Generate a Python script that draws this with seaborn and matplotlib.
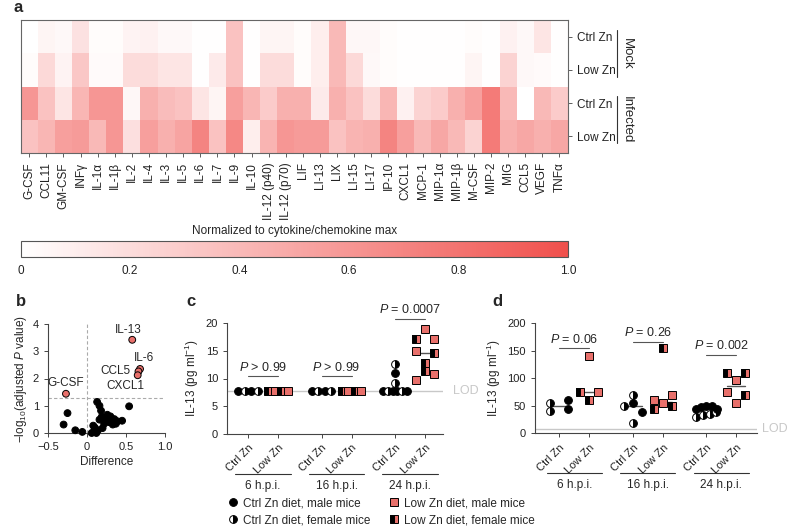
import numpy as np
import pandas as pd
import seaborn as sns
import matplotlib.pyplot as plt
from matplotlib.colors import LinearSegmentedColormap
from matplotlib.lines import Line2D
from matplotlib.transforms import blended_transform_factory

sns.set_style("ticks")
plt.rcParams["font.family"] = ["Liberation Sans", "DejaVu Sans"]
plt.rcParams["mathtext.fontset"] = "custom"
plt.rcParams["mathtext.rm"] = "Liberation Sans"
plt.rcParams["mathtext.it"] = "Liberation Sans:italic"
plt.rcParams["font.size"] = 8
plt.rcParams["axes.edgecolor"] = "#444444"
plt.rcParams["axes.linewidth"] = 0.8
plt.rcParams["xtick.color"] = "#444444"
plt.rcParams["ytick.color"] = "#444444"
plt.rcParams["xtick.labelcolor"] = "#222222"
plt.rcParams["ytick.labelcolor"] = "#222222"

# ---- panel a: cytokine heatmap (normalized to max) ----
cytokines = ["G-CSF", "CCL11", "GM-CSF", "INFγ", "IL-1α", "IL-1β", "IL-2", "IL-4", "IL-3", "IL-5",
             "IL-6", "IL-7", "IL-9", "IL-10", "IL-12 (p40)", "IL-12 (p70)", "LIF", "LI-13", "LIX",
             "LI-15", "LI-17", "IP-10", "CXCL1", "MCP-1", "MIP-1α", "MIP-1β", "M-CSF", "MIP-2",
             "MIG", "CCL5", "VEGF", "TNFα"]
row_labels = ["Ctrl Zn", "Low Zn", "Ctrl Zn", "Low Zn"]
mock_ctrl = [0.00, 0.06, 0.04, 0.17, 0.02, 0.02, 0.07, 0.08, 0.04, 0.04, 0.01, 0.01, 0.35, 0.01, 0.06, 0.06,
             0.02, 0.10, 0.40, 0.05, 0.05, 0.02, 0.01, 0.01, 0.01, 0.01, 0.02, 0.01, 0.08, 0.04, 0.15, 0.01]
mock_low = [0.02, 0.22, 0.07, 0.32, 0.03, 0.03, 0.20, 0.20, 0.15, 0.15, 0.01, 0.12, 0.35, 0.01, 0.20, 0.20,
            0.02, 0.10, 0.40, 0.22, 0.04, 0.02, 0.01, 0.01, 0.01, 0.01, 0.06, 0.01, 0.25, 0.04, 0.03, 0.01]
inf_ctrl = [0.60, 0.35, 0.15, 0.42, 0.60, 0.60, 0.05, 0.45, 0.38, 0.35, 0.15, 0.06, 0.55, 0.42, 0.30, 0.45,
            0.45, 0.12, 0.45, 0.35, 0.20, 0.42, 0.08, 0.25, 0.30, 0.45, 0.55, 0.75, 0.40, 0.00, 0.40, 0.30]
inf_low = [0.35, 0.42, 0.55, 0.57, 0.40, 0.60, 0.18, 0.55, 0.45, 0.52, 0.70, 0.35, 0.68, 0.10, 0.43, 0.60,
           0.57, 0.57, 0.35, 0.43, 0.45, 0.70, 0.55, 0.40, 0.50, 0.40, 0.25, 0.75, 0.45, 0.50, 0.45, 0.50]

# ---- panel b: volcano ----
volc_diff = [-0.30, -0.25, -0.15, -0.06, 0.06, 0.08, 0.09, 0.12, 0.14, 0.13, 0.16, 0.18, 0.16, 0.22,
             0.24, 0.26, 0.30, 0.35, 0.33, 0.39, 0.45, 0.37, 0.20, 0.54, 0.10, 0.28, 0.19]
volc_logp = [0.31, 0.73, 0.10, 0.04, 0.00, 0.27, 0.06, 0.00, 0.10, 1.14, 1.00, 0.82, 0.49, 0.34,
             0.49, 0.67, 0.61, 0.51, 0.31, 0.43, 0.45, 0.34, 0.18, 0.98, 0.20, 0.40, 0.60]
hit_names = ["IL-13", "IL-6", "CCL5", "CXCL1", "G-CSF"]
hit_diff = [0.58, 0.68, 0.66, 0.65, -0.27]
hit_logp = [3.42, 2.35, 2.26, 2.12, 1.44]

# ---- panels c, d: IL-13 per mouse ----
timepoints = ["6 h.p.i.", "16 h.p.i.", "24 h.p.i."]
LOD = 7.8
c_ctrl_vals = [[7.8, 7.8, 7.8, 7.8], [7.8, 7.8, 7.8, 7.8],
               [12.6, 11.0, 9.1, 7.8, 7.8, 7.8, 7.8, 7.8, 7.8]]
c_ctrl_sex = [["M", "F", "M", "F"], ["M", "F", "M", "F"],
              ["F", "M", "F", "M", "F", "M", "M", "F", "M"]]
c_low_vals = [[7.8, 7.8, 7.8, 7.8], [7.8, 7.8, 7.8, 7.8],
              [17.2, 17.2, 19.0, 15.0, 14.6, 12.8, 11.4, 9.7, 10.8]]
c_low_sex = [["F", "M", "F", "M"], ["F", "M", "F", "M"],
             ["F", "M", "M", "M", "F", "F", "F", "M", "M"]]
c_pvals = ["$P$ > 0.99", "$P$ > 0.99", "$P$ = 0.0007"]
c_bracket_y = [10.4, 10.4, 20.7]

d_ctrl_vals = [[55, 40, 60, 45], [50, 70, 19.4, 54.5, 38.5],
               [29, 44, 33, 47, 35, 50, 39, 49, 45]]
d_ctrl_sex = [["F", "F", "M", "M"], ["F", "F", "F", "M", "M"],
              ["F", "M", "F", "M", "F", "M", "F", "M", "M"]]
d_low_vals = [[75, 140, 75, 60], [155, 43.6, 54.5, 50, 60.6, 70],
              [110, 110, 75, 70, 97, 55]]
d_low_sex = [["F", "M", "M", "F"], ["F", "F", "M", "F", "M", "M"],
             ["F", "F", "M", "F", "M", "M"]]
d_pvals = ["$P$ = 0.06", "$P$ = 0.26", "$P$ = 0.002"]
d_bracket_y = [154.5, 166.6, 142]

RED = "#E8706B"
styles = {
    ("ctrl", "M"): dict(marker="o", markersize=5.6, markerfacecolor="black", markeredgecolor="black"),
    ("ctrl", "F"): dict(marker="o", markersize=5.6, fillstyle="right", markerfacecolor="black",
                        markerfacecoloralt="white", markeredgecolor="black"),
    ("low", "M"): dict(marker="s", markersize=5.6, markerfacecolor=RED, markeredgecolor="black"),
    ("low", "F"): dict(marker="s", markersize=5.6, fillstyle="left", markerfacecolor="black",
                       markerfacecoloralt=RED, markeredgecolor="black"),
}

fig = plt.figure(figsize=(8, 5.3), dpi=100)
W, H = 800, 530


def rect(x0, y0, x1, y1):
    return [x0 / W, 1 - y1 / H, (x1 - x0) / W, (y1 - y0) / H]


# ================= a =================
ax_a = fig.add_axes(rect(20.7, 20, 568, 153))
cax = fig.add_axes(rect(20.7, 241, 568, 257))
df_a = pd.DataFrame([mock_ctrl, mock_low, inf_ctrl, inf_low], index=row_labels, columns=cytokines)
cmap = LinearSegmentedColormap.from_list("wr", ["#FFFFFF", "#F0504C"])
sns.heatmap(df_a, ax=ax_a, cmap=cmap, vmin=0, vmax=1, cbar_ax=cax,
            cbar_kws={"orientation": "horizontal"})
ax_a.set_xticks(np.arange(len(cytokines)) + 0.5)
ax_a.set_xticklabels(cytokines, rotation=90, fontsize=8.5)
ax_a.yaxis.tick_right()
ax_a.set_yticks(np.arange(4) + 0.5)
ax_a.set_yticklabels(row_labels, rotation=0, fontsize=8.5)
ax_a.tick_params(length=3, width=0.6)
for sp in ax_a.spines.values():
    sp.set_visible(True)
    sp.set_color("#666666")
    sp.set_linewidth(0.8)

tr = blended_transform_factory(ax_a.transAxes, ax_a.transData)
for (y0, y1), name in zip([(0.3, 1.72), (2.28, 3.7)], ["Mock", "Infected"]):
    ax_a.plot([1.0895, 1.0895], [y0, y1], transform=tr, clip_on=False, color="#333333", lw=0.8)
    ax_a.text(1.108, (y0 + y1) / 2, name, transform=tr, rotation=270, ha="center", va="center",
              fontsize=9.5)

cbar = ax_a.collections[0].colorbar
cbar.outline.set_edgecolor("#555555")
cbar.outline.set_linewidth(0.8)
cbar.set_ticks([0, 0.2, 0.4, 0.6, 0.8, 1.0])
cax.set_xticklabels(["0", "0.2", "0.4", "0.6", "0.8", "1.0"], fontsize=8.5)
cax.tick_params(axis="x", top=True, bottom=False, labeltop=False, labelbottom=True,
                direction="in", length=4, width=0.6, pad=6)
cax.set_title("Normalized to cytokine/chemokine max", fontsize=8.5, pad=5)

# ================= b =================
ax_b = fig.add_axes(rect(48, 324, 165, 433))
df_b = pd.DataFrame({"diff": volc_diff + hit_diff, "logp": volc_logp + hit_logp,
                     "hit": ["no"] * len(volc_diff) + ["yes"] * len(hit_diff)})
ax_b.axvline(0, color="#aaaaaa", lw=0.8, ls=(0, (3, 2)), zorder=0)
ax_b.axhline(-np.log10(0.05), color="#aaaaaa", lw=0.8, ls=(0, (3, 2)), zorder=0)
sns.scatterplot(data=df_b, x="diff", y="logp", hue="hit", palette={"no": "black", "yes": RED},
                s=24, edgecolor="black", linewidth=0.7, legend=False, clip_on=False, zorder=3, ax=ax_b)
label_offsets = {"IL-13": (-3, 7, "center"), "IL-6": (3, 8, "center"), "CCL5": (-6, 0, "right"),
                 "CXCL1": (-9, -8, "center"), "G-CSF": (0, 7.5, "center")}
for name, x, y in zip(hit_names, hit_diff, hit_logp):
    dx, dy, ha = label_offsets[name]
    ax_b.annotate(name, (x, y), xytext=(dx, dy), textcoords="offset points", ha=ha, va="center",
                  fontsize=8.5)
ax_b.set_xlim(-0.5, 1.0)
ax_b.set_ylim(0, 4)
ax_b.set_xticks([-0.5, 0, 0.5, 1.0])
ax_b.set_xticklabels(["\u22120.5", "0", "0.5", "1.0"])
ax_b.set_yticks([0, 1, 2, 3, 4])
ax_b.set_xlabel("Difference", fontsize=8.5, labelpad=3)
ax_b.set_ylabel("$-$log$_{10}$(adjusted $P$ value)", fontsize=8.5, labelpad=3)
ax_b.tick_params(length=3, width=0.7, labelsize=8)
sns.despine(ax=ax_b)


# ================= c, d =================
def row_offsets(vals, ax, px_gap=6.5):
    # points closer than about one marker in y share a row and get spread sideways
    vals = np.asarray(vals, float)
    ypx = ax.transData.transform(np.column_stack([np.zeros_like(vals), vals]))[:, 1]
    order = np.argsort(vals, kind="stable")
    offs = np.zeros(len(vals))
    rows, cur, start = [], [], None
    for i in order:
        if cur and ypx[i] - start >= px_gap:
            rows.append(cur)
            cur = []
        if not cur:
            start = ypx[i]
        cur.append(i)
    rows.append(cur)
    for r in rows:
        r = sorted(r)
        n = len(r)
        if n > 1:
            hw = min(0.3 + 0.03 * max(n - 3, 0), 0.42)
            offs[r] = np.linspace(-hw, hw, n)
    return offs


def dot_panel(ax, ctrl_vals, ctrl_sex, low_vals, low_sex, pvals, bracket_y, ylim, yticks, lod_x):
    pos_ctrl = [g * 2.45 for g in range(3)]
    pos_low = [g * 2.45 + 1 for g in range(3)]
    ax.set_ylim(*ylim)
    ax.set_yticks(yticks)
    ax.axhline(LOD, color="#c8c8c8", lw=1, zorder=1)
    ax.text(lod_x, LOD, "LOD", transform=blended_transform_factory(ax.transAxes, ax.transData),
            color="#c8c8c8", fontsize=9, ha="left", va="center")
    for g in range(3):
        for pos, vals, sexes, diet in [(pos_ctrl[g], ctrl_vals[g], ctrl_sex[g], "ctrl"),
                                       (pos_low[g], low_vals[g], low_sex[g], "low")]:
            ax.plot([pos - 0.3, pos + 0.3], [np.median(vals)] * 2, color="#555555", lw=1, zorder=2)
            offs = row_offsets(vals, ax)
            for xo, v, s in zip(offs, vals, sexes):
                ax.plot(pos + xo, v, linestyle="none", markeredgewidth=0.7, clip_on=False, zorder=3,
                        **styles[(diet, s)])
        ax.plot([pos_ctrl[g], pos_low[g]], [bracket_y[g]] * 2, color="#555555", lw=0.8, clip_on=False)
        ax.annotate(pvals[g], ((pos_ctrl[g] + pos_low[g]) / 2, bracket_y[g]), xytext=(0, 2),
                    textcoords="offset points", ha="center", va="bottom", fontsize=9,
                    annotation_clip=False)
        trb = blended_transform_factory(ax.transData, ax.transAxes)
        ax.plot([pos_ctrl[g] - 0.42, pos_low[g] + 0.42], [-0.36, -0.36], transform=trb,
                clip_on=False, color="#333333", lw=0.8)
        ax.text((pos_ctrl[g] + pos_low[g]) / 2, -0.47, timepoints[g], transform=trb,
                ha="center", va="center", fontsize=8.5)
    ticks = sorted(pos_ctrl + pos_low)
    ax.set_xticks(ticks)
    ax.set_xticklabels(["Ctrl Zn", "Low Zn"] * 3, rotation=45, ha="right", rotation_mode="anchor")
    ax.set_ylabel("IL-13 (pg ml$^{-1}$)", fontsize=8.5, labelpad=3)
    ax.tick_params(length=3, width=0.7, labelsize=8)
    sns.despine(ax=ax)


ax_c = fig.add_axes(rect(227, 323, 443, 434))
ax_c.set_xlim(-0.7, 6.5)
dot_panel(ax_c, c_ctrl_vals, c_ctrl_sex, c_low_vals, c_low_sex, c_pvals, c_bracket_y,
          (0, 20), [0, 5, 10, 15, 20], 1.045)

ax_d = fig.add_axes(rect(535, 323.3, 756.7, 433.3))
ax_d.set_xlim(-0.81, 6.58)
dot_panel(ax_d, d_ctrl_vals, d_ctrl_sex, d_low_vals, d_low_sex, d_pvals, d_bracket_y,
          (0, 200), [0, 50, 100, 150, 200], 1.025)

# legend
handles = [Line2D([], [], linestyle="none", markeredgewidth=0.7, **styles[k])
           for k in [("ctrl", "M"), ("ctrl", "F"), ("low", "M"), ("low", "F")]]
labels = ["Ctrl Zn diet, male mice", "Ctrl Zn diet, female mice",
          "Low Zn diet, male mice", "Low Zn diet, female mice"]
fig.legend(handles, labels, ncol=2, loc="upper left", bbox_to_anchor=(229 / W, 1 - 497 / H),
           frameon=False, handlelength=0.7, handletextpad=0.5, columnspacing=1.6,
           labelspacing=0.45, borderpad=0, borderaxespad=0, fontsize=8.5)

for letter, x, y in [("a", 18, 7), ("b", 21, 301), ("c", 191, 301), ("d", 497, 301)]:
    fig.text(x / W, 1 - y / H, letter, fontsize=12, fontweight="bold", ha="center", va="center")

fig.savefig("out.png", dpi=100)
